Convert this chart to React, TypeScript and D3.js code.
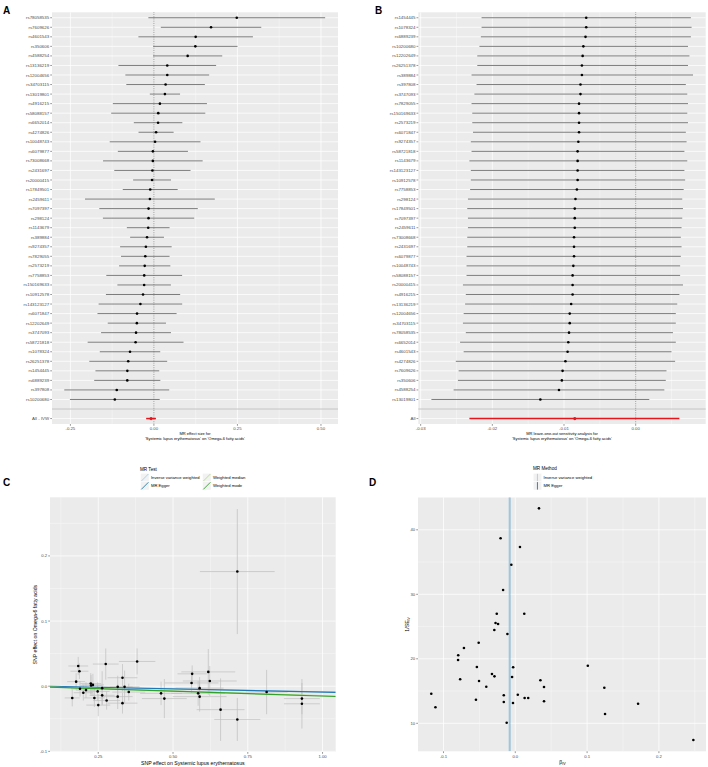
import React from "react";
import * as d3 from "d3";

const FONT = "'Liberation Sans', Arial, Helvetica, sans-serif";

// ---------- SNP-level Wald ratio estimates (panel A order; also used in D) ----------
const snpNames = [
  "rs78058535", "rs7609626", "rs4601543", "rs350606", "rs4588254", "rs13136219", "rs12004656",
  "rs34703115", "rs13019801", "rs4916215", "rs58088157", "rs6652014", "rs4274826", "rs10048743",
  "rs6079877", "rs73008668", "rs2431697", "rs20000415", "rs17849501", "rs2459611", "rs7097397",
  "rs298124", "rs1143679", "rs389884", "rs9274357", "rs7829055", "rs2573219", "rs7758853",
  "rs150169633", "rs10912578", "rs143123127", "rs6071847", "rs12202649", "rs3747093",
  "rs58721818", "rs1078324", "rs26251378", "rs1454445", "rs6889239", "rs397808", "rs10200680",
];
const snpBeta = [
  0.248, 0.171, 0.125, 0.124, 0.101, 0.04, 0.04, 0.035, 0.033, 0.018, 0.013, 0.0125, 0.0065, 0.0035,
  -0.003, -0.0032, -0.0045, -0.0055, -0.011, -0.012, -0.016, -0.016, -0.017, -0.0205, -0.024,
  -0.0258, -0.0275, -0.029, -0.0292, -0.0325, -0.0404, -0.0505, -0.051, -0.0535, -0.0548, -0.0715,
  -0.0768, -0.0795, -0.0797, -0.1112, -0.117,
];
const snpInvSe = [
  7.41, 13.04, 11.44, 15.52, 18.93, 13.41, 15.63, 16.67, 43.33, 13.92, 13.92, 26.99, 37.33, 14.43,
  18.68, 13.15, 17.18, 34.59, 23.84, 10.09, 13.3, 14.34, 30.67, 38.68, 25.4, 26.99, 25.55, 17.28,
  24.47, 17.64, 15.67, 16.56, 22.5, 18.73, 13.66, 21.67, 16.82, 20.54, 19.81, 12.48, 14.59,
];
const ivwBeta = -0.0085;
const ivwLo = -0.0232;
const ivwHi = 0.0061;
const eggerBeta = -0.0072;

// ---------- Leave-one-out (panel B order) ----------
const looNames = [
  "rs1454445", "rs1078324", "rs6889239", "rs10200680", "rs12202649", "rs26251378", "rs389884",
  "rs397808", "rs3747093", "rs7829055", "rs150169633", "rs2573219", "rs6071847", "rs9274357",
  "rs58721818", "rs1143679", "rs143123127", "rs10912578", "rs7758853", "rs298124", "rs17849501",
  "rs7097397", "rs2459611", "rs73008668", "rs2431697", "rs6079877", "rs10048743", "rs58088157",
  "rs20000415", "rs4916215", "rs13136219", "rs12004656", "rs34703115", "rs78058535", "rs6652014",
  "rs4601543", "rs4274826", "rs7609626", "rs350606", "rs4588254", "rs13019801",
];
const looBeta = [
  -0.0069, -0.0069, -0.007, -0.0073, -0.0074, -0.0075, -0.0075, -0.0077, -0.0077, -0.0079, -0.0079,
  -0.0079, -0.0079, -0.008, -0.0081, -0.0081, -0.0081, -0.0081, -0.0082, -0.0084, -0.0085, -0.0085,
  -0.0085, -0.0086, -0.0086, -0.0086, -0.0087, -0.0088, -0.0088, -0.0088, -0.009, -0.0092, -0.0092,
  -0.0093, -0.0094, -0.0095, -0.0098, -0.0102, -0.0103, -0.0107, -0.0133,
];
const looLo = [
  -0.0215, -0.0215, -0.0216, -0.0218, -0.0221, -0.0221, -0.0229, -0.0222, -0.0225, -0.0229, -0.0228,
  -0.0228, -0.0227, -0.023, -0.0229, -0.0232, -0.023, -0.023, -0.0231, -0.0234, -0.0235, -0.0234,
  -0.0234, -0.0235, -0.0235, -0.0236, -0.0236, -0.0236, -0.0241, -0.0237, -0.0238, -0.024, -0.0241,
  -0.0237, -0.0245, -0.024, -0.0251, -0.0247, -0.0248, -0.0254, -0.0285,
];
const looHi = [
  0.0077, 0.0078, 0.0077, 0.0073, 0.0075, 0.0073, 0.008, 0.007, 0.0072, 0.0073, 0.0072, 0.0073,
  0.007, 0.0071, 0.0068, 0.0072, 0.0068, 0.0069, 0.0067, 0.0065, 0.0066, 0.0065, 0.0064, 0.0063,
  0.0064, 0.0063, 0.0062, 0.0062, 0.0066, 0.0061, 0.0058, 0.0056, 0.0056, 0.0052, 0.0056, 0.005,
  0.0055, 0.0043, 0.0042, 0.004, 0.0019,
];

// ---------- Scatter (panel C) ----------
const expBeta = [
  0.715, 0.183, 0.187, 0.176, 0.163, 0.189, 0.2, 0.209, 0.225, 0.226, 0.232, 0.237, 0.248, 0.25,
  0.263, 0.263, 0.275, 0.278, 0.315, 0.315, 0.331, 0.331, 0.338, 0.352, 0.38, 0.46, 0.471, 0.564,
  0.562, 0.584, 0.589, 0.589, 0.618, 0.623, 0.659, 0.715, 0.813, 0.931, 0.931,
];
const outBeta = [
  0.176, 0.031, 0.023, 0.007, -0.018, -0.004, -0.01, -0.006, 0.004, 0.001, 0.002, -0.018, -0.008,
  -0.029, -0.003, -0.014, 0.034, -0.022, -0.001, -0.016, 0.013, -0.026, -0.001, -0.009, 0.038,
  -0.011, -0.019, 0.019, 0.005, -0.011, -0.003, -0.016, 0.022, 0.008, -0.036, -0.051, -0.009,
  -0.019, -0.027,
];
const expSe = [
  0.125, 0.033, 0.03, 0.03, 0.025, 0.03, 0.032, 0.033, 0.035, 0.036, 0.037, 0.035, 0.04, 0.04, 0.04,
  0.042, 0.043, 0.045, 0.05, 0.05, 0.05, 0.05, 0.05, 0.055, 0.061, 0.07, 0.075, 0.049, 0.09, 0.09,
  0.08, 0.09, 0.09, 0.09, 0.08, 0.077, 0.07, 0.06, 0.06,
];
const outSe = [
  0.096, 0.014, 0.012, 0.013, 0.013, 0.012, 0.012, 0.012, 0.016, 0.016, 0.017, 0.014, 0.014, 0.017,
  0.026, 0.014, 0.024, 0.014, 0.017, 0.019, 0.021, 0.016, 0.025, 0.013, 0.02, 0.018, 0.03, 0.013,
  0.015, 0.019, 0.017, 0.023, 0.035, 0.023, 0.048, 0.033, 0.034, 0.024, 0.038,
];
const methodNames = ["Inverse variance weighted", "MR Egger", "Weighted median", "Weighted mode"];
const methodColors = ["#A6CEE3", "#1F78B4", "#B2DF8A", "#33A02C"];
const methodIntercept = [0, 0.0008, 0, 0];
const methodSlope = [-0.0085, -0.0098, -0.0145, -0.0152];

// ---------- Ticks ----------
const ticksA = [-0.25, 0, 0.25, 0.5];
const tickLabelsA = ["-0.25", "0.00", "0.25", "0.50"];
const minorA = [-0.125, 0.125, 0.375];
const ticksB = [-0.03, -0.02, -0.01, 0];
const tickLabelsB = ["-0.03", "-0.02", "-0.01", "0.00"];
const minorB = [-0.025, -0.015, -0.005, 0.005];
const ticksCx = [0.25, 0.5, 0.75, 1.0];
const tickLabelsCx = ["0.25", "0.50", "0.75", "1.00"];
const minorCx = [0.125, 0.375, 0.625, 0.875];
const ticksCy = [-0.1, 0, 0.1, 0.2];
const tickLabelsCy = ["-0.1", "0.0", "0.1", "0.2"];
const minorCy = [-0.05, 0.05, 0.15, 0.25];
const ticksDx = [-0.1, 0, 0.1, 0.2];
const tickLabelsDx = ["-0.1", "0.0", "0.1", "0.2"];
const minorDx = [-0.05, 0.05, 0.15, 0.25];
const ticksDy = [10, 20, 30, 40];
const tickLabelsDy = ["10", "20", "30", "40"];
const minorDy = [15, 25, 35, 45];

const BG = "#EBEBEB";
const TXT = "#4D4D4D";

function Forest(p: any) {
  const { left, right, top, bottom, domain, ticks, tickLabels, minor, names, b, lo, hi, allLabel, allB, allLo, allHi, title1, title2 } = p;
  const x = d3.scaleLinear().domain(domain).range([left, right]);
  const keys = [...names, "__gap", "__all"];
  const y = d3.scalePoint<string>().domain(keys).range([top, bottom]).padding(0.57);
  const cx = (left + right) / 2;
  return (
    <g>
      <rect x={left} y={top} width={right - left} height={bottom - top} fill={BG} />
      {minor.map((v: number) => (
        <line key={"m" + v} x1={x(v)} x2={x(v)} y1={top} y2={bottom} stroke="#fff" strokeWidth={0.35} />
      ))}
      {ticks.map((v: number) => (
        <line key={"t" + v} x1={x(v)} x2={x(v)} y1={top} y2={bottom} stroke="#fff" strokeWidth={0.75} />
      ))}
      {keys.map((k) => (
        <line key={"h" + k} x1={left} x2={right} y1={y(k)} y2={y(k)} stroke="#fff" strokeWidth={0.75} />
      ))}
      <line x1={left} x2={right} y1={y("__gap")} y2={y("__gap")} stroke="#9a9a9a" strokeWidth={0.6} />
      <line x1={x(0)} x2={x(0)} y1={top} y2={bottom} stroke="#555" strokeWidth={0.6} strokeDasharray="0.9,0.9" />
      {names.map((n: string, i: number) => (
        <g key={n}>
          <line x1={x(lo[i])} x2={x(hi[i])} y1={y(n)} y2={y(n)} stroke="#666" strokeWidth={0.85} />
          <circle cx={x(b[i])} cy={y(n)} r={1.3} fill="#000" />
        </g>
      ))}
      <line x1={x(allLo)} x2={x(allHi)} y1={y("__all")} y2={y("__all")} stroke="#E8141B" strokeWidth={1.5} />
      <circle cx={x(allB)} cy={y("__all")} r={1.6} fill="#E8141B" />
      {keys.map((k) =>
        k === "__gap" ? null : (
          <g key={"l" + k}>
            <line x1={left - 1.8} x2={left} y1={y(k)} y2={y(k)} stroke="#333" strokeWidth={0.5} />
            <text x={left - 2.8} y={y(k)} dy="0.35em" textAnchor="end" fontSize={4.4} fill={TXT} fontFamily={FONT}>
              {k === "__all" ? allLabel : k}
            </text>
          </g>
        )
      )}
      {ticks.map((v: number, i: number) => (
        <g key={"xt" + v}>
          <line x1={x(v)} x2={x(v)} y1={bottom} y2={bottom + 1.8} stroke="#333" strokeWidth={0.5} />
          <text x={x(v)} y={bottom + 5.8} textAnchor="middle" fontSize={4.3} fill={TXT} fontFamily={FONT}>
            {tickLabels[i]}
          </text>
        </g>
      ))}
      <text x={cx} y={bottom + 11} textAnchor="middle" fontSize={4.0} fill="#000" fontFamily={FONT}>
        {title1}
      </text>
      <text x={cx} y={bottom + 16.2} textAnchor="middle" fontSize={4.0} fill="#000" fontFamily={FONT}>
        {title2}
      </text>
    </g>
  );
}

function Grid(p: any) {
  const { x, y, left, right, top, bottom, tx, ty, mx, my } = p;
  return (
    <g>
      <rect x={left} y={top} width={right - left} height={bottom - top} fill={BG} />
      {mx.map((v: number) => (
        <line key={"mx" + v} x1={x(v)} x2={x(v)} y1={top} y2={bottom} stroke="#fff" strokeWidth={0.35} />
      ))}
      {my.map((v: number) => (
        <line key={"my" + v} x1={left} x2={right} y1={y(v)} y2={y(v)} stroke="#fff" strokeWidth={0.35} />
      ))}
      {tx.map((v: number) => (
        <line key={"tx" + v} x1={x(v)} x2={x(v)} y1={top} y2={bottom} stroke="#fff" strokeWidth={0.75} />
      ))}
      {ty.map((v: number) => (
        <line key={"ty" + v} x1={left} x2={right} y1={y(v)} y2={y(v)} stroke="#fff" strokeWidth={0.75} />
      ))}
    </g>
  );
}

function Axes(p: any) {
  const { x, y, left, bottom, tx, ty, lx, ly } = p;
  return (
    <g>
      {tx.map((v: number, i: number) => (
        <g key={"ax" + v}>
          <line x1={x(v)} x2={x(v)} y1={bottom} y2={bottom + 1.8} stroke="#333" strokeWidth={0.5} />
          <text x={x(v)} y={bottom + 6.2} textAnchor="middle" fontSize={4.2} fill={TXT} fontFamily={FONT}>
            {lx[i]}
          </text>
        </g>
      ))}
      {ty.map((v: number, i: number) => (
        <g key={"ay" + v}>
          <line x1={left - 1.8} x2={left} y1={y(v)} y2={y(v)} stroke="#333" strokeWidth={0.5} />
          <text x={left - 2.8} y={y(v)} dy="0.35em" textAnchor="end" fontSize={4.2} fill={TXT} fontFamily={FONT}>
            {ly[i]}
          </text>
        </g>
      ))}
    </g>
  );
}

export default function App() {
  // panel C
  const cL = 50, cR = 335.7, cT = 497.3, cB = 752;
  const xC = d3.scaleLinear().domain([0.0886, 1.044]).range([cL, cR]);
  const yC = d3.scaleLinear().domain([-0.101, 0.29]).range([cB, cT]);
  // panel D
  const dL = 418, dR = 706, dT = 497.3, dB = 751.3;
  const xD = d3.scaleLinear().domain([-0.1355, 0.2656]).range([dL, dR]);
  const yD = d3.scaleLinear().domain([5.66, 45.04]).range([dB, dT]);

  const ciLo = snpBeta.map((v, i) => v - 1.96 / snpInvSe[i]);
  const ciHi = snpBeta.map((v, i) => v + 1.96 / snpInvSe[i]);

  const legC = [
    { m: 0, x: 140.7, y: 473.4 },
    { m: 1, x: 140.7, y: 481.7 },
    { m: 2, x: 202.7, y: 473.4 },
    { m: 3, x: 202.7, y: 481.7 },
  ];
  const key = 8.3;

  return (
    <svg
      width={708}
      height={767}
      viewBox="0 0 708 767"
      style={{ position: "absolute", left: 0, top: 0, background: "#fff" }}
      fontFamily={FONT}
    >
      <defs>
        <clipPath id="clipC">
          <rect x={cL} y={cT} width={cR - cL} height={cB - cT} />
        </clipPath>
        <clipPath id="clipD">
          <rect x={dL} y={dT} width={dR - dL} height={dB - dT} />
        </clipPath>
      </defs>

      {/* Panel letters */}
      <text x={3} y={14} fontSize={10} fontWeight="bold" fill="#000">A</text>
      <text x={375} y={13.5} fontSize={10} fontWeight="bold" fill="#000">B</text>
      <text x={3} y={485.5} fontSize={10} fontWeight="bold" fill="#000">C</text>
      <text x={369} y={485.8} fontSize={10} fontWeight="bold" fill="#000">D</text>

      {/* Panel A */}
      <Forest
        left={52}
        right={338}
        top={12.3}
        bottom={424}
        domain={[-0.305, 0.551]}
        ticks={ticksA}
        tickLabels={tickLabelsA}
        minor={minorA}
        names={snpNames}
        b={snpBeta}
        lo={ciLo}
        hi={ciHi}
        allLabel="All - IVW"
        allB={ivwBeta}
        allLo={ivwLo}
        allHi={ivwHi}
        title1="MR effect size for"
        title2="'Systemic lupus erythematosus' on 'Omega-6 fatty acids'"
      />

      {/* Panel B */}
      <Forest
        left={418.3}
        right={705.7}
        top={12.3}
        bottom={424}
        domain={[-0.03033, 0.00977]}
        ticks={ticksB}
        tickLabels={tickLabelsB}
        minor={minorB}
        names={looNames}
        b={looBeta}
        lo={looLo}
        hi={looHi}
        allLabel="All"
        allB={ivwBeta}
        allLo={ivwLo}
        allHi={ivwHi}
        title1="MR leave-one-out sensitivity analysis for"
        title2="'Systemic lupus erythematosus' on 'Omega-6 fatty acids'"
      />

      {/* Panel C */}
      <text x={140} y={470.6} fontSize={4.6} fill="#000">MR Test</text>
      {legC.map((k) => (
        <g key={"lc" + k.m}>
          <rect x={k.x} y={k.y} width={key} height={key} fill="#F2F2F2" stroke="#fff" strokeWidth={0.4} />
          <line x1={k.x + 0.6} y1={k.y + key - 0.6} x2={k.x + key - 0.6} y2={k.y + 0.6} stroke={methodColors[k.m]} strokeWidth={0.9} />
          <text x={k.x + key + 1.9} y={k.y + key / 2} dy="0.35em" fontSize={4.2} fill="#000">
            {methodNames[k.m]}
          </text>
        </g>
      ))}
      <Grid x={xC} y={yC} left={cL} right={cR} top={cT} bottom={cB} tx={ticksCx} ty={ticksCy} mx={minorCx} my={minorCy} />
      <g clipPath="url(#clipC)">
        {expBeta.map((v, i) => (
          <g key={"eb" + i}>
            <line x1={xC(v)} x2={xC(v)} y1={yC(outBeta[i] - outSe[i])} y2={yC(outBeta[i] + outSe[i])} stroke="#BEBEBE" strokeWidth={0.7} />
            <line x1={xC(v - expSe[i])} x2={xC(v + expSe[i])} y1={yC(outBeta[i])} y2={yC(outBeta[i])} stroke="#BEBEBE" strokeWidth={0.7} />
          </g>
        ))}
        {methodNames.map((m, i) => {
          const [a0, a1] = xC.domain();
          return (
            <line
              key={"ab" + m}
              x1={xC(a0)}
              x2={xC(a1)}
              y1={yC(methodIntercept[i] + methodSlope[i] * a0)}
              y2={yC(methodIntercept[i] + methodSlope[i] * a1)}
              stroke={methodColors[i]}
              strokeWidth={1.1}
            />
          );
        })}
        {expBeta.map((v, i) => (
          <circle key={"pc" + i} cx={xC(v)} cy={yC(outBeta[i])} r={1.3} fill="#000" />
        ))}
      </g>
      <Axes x={xC} y={yC} left={cL} bottom={cB} tx={ticksCx} ty={ticksCy} lx={tickLabelsCx} ly={tickLabelsCy} />
      <text x={(cL + cR) / 2} y={764.6} textAnchor="middle" fontSize={5.2} fill="#000">
        SNP effect on Systemic lupus erythematosus
      </text>
      <text transform={`translate(36.8, ${(cT + cB) / 2}) rotate(-90)`} textAnchor="middle" fontSize={5.2} fill="#000">
        SNP effect on Omega-6 fatty acids
      </text>

      {/* Panel D */}
      <text x={533} y={470.3} fontSize={4.6} fill="#000">MR Method</text>
      {[0, 1].map((m) => {
        const ky = m === 0 ? 473.4 : 481.7;
        return (
          <g key={"ld" + m}>
            <rect x={533.3} y={ky} width={key} height={key} fill="#F2F2F2" stroke="#fff" strokeWidth={0.4} />
            <line x1={533.3 + key / 2} x2={533.3 + key / 2} y1={ky + 0.4} y2={ky + key - 0.4} stroke={methodColors[m]} strokeWidth={0.9} />
            <text x={533.3 + key + 1.9} y={ky + key / 2} dy="0.35em" fontSize={4.2} fill="#000">
              {methodNames[m]}
            </text>
          </g>
        );
      })}
      <Grid x={xD} y={yD} left={dL} right={dR} top={dT} bottom={dB} tx={ticksDx} ty={ticksDy} mx={minorDx} my={minorDy} />
      <g clipPath="url(#clipD)">
        <line x1={xD(ivwBeta)} x2={xD(ivwBeta)} y1={dT} y2={dB} stroke={methodColors[0]} strokeWidth={1.1} />
        <line x1={xD(eggerBeta)} x2={xD(eggerBeta)} y1={dT} y2={dB} stroke={methodColors[1]} strokeWidth={0.6} opacity={0.7} />
        {snpBeta.map((v, i) => (
          <circle key={"pd" + i} cx={xD(v)} cy={yD(snpInvSe[i])} r={1.3} fill="#000" />
        ))}
      </g>
      <Axes x={xD} y={yD} left={dL} bottom={dB} tx={ticksDx} ty={ticksDy} lx={tickLabelsDx} ly={tickLabelsDy} />
      <text x={(dL + dR) / 2 + 0.5} y={763.8} textAnchor="middle" fontSize={5.2} fill="#000">
        β
        <tspan fontSize={3.6} dy={1.2}>IV</tspan>
      </text>
      <text transform={`translate(409, ${(dT + dB) / 2}) rotate(-90)`} textAnchor="middle" fontSize={5.2} fill="#000">
        1/SE
        <tspan fontSize={3.6} dy={1.2}>IV</tspan>
      </text>
    </svg>
  );
}
